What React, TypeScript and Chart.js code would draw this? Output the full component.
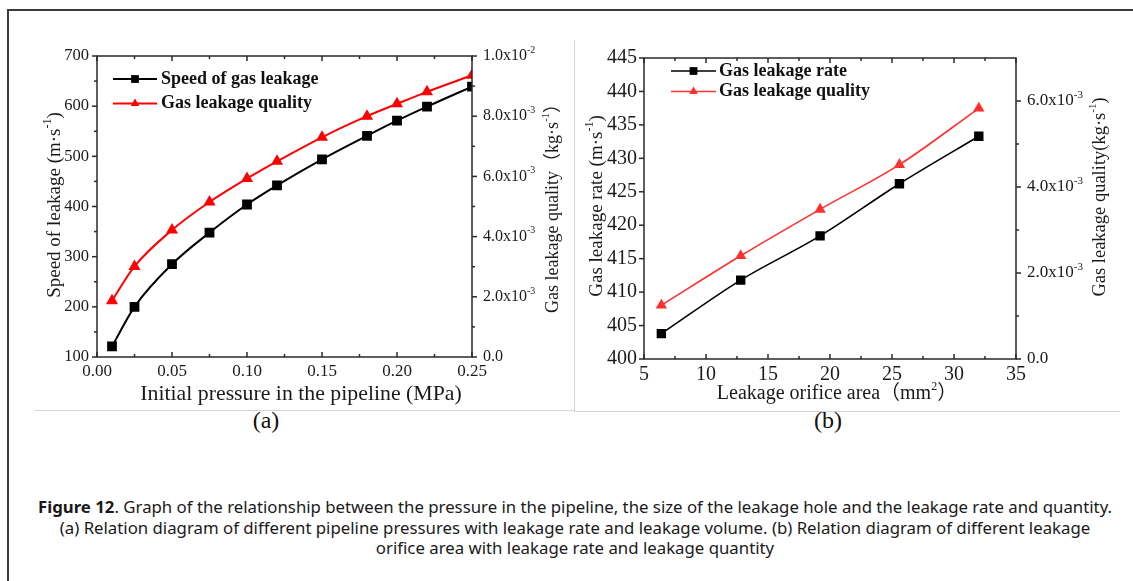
import React, { useEffect, useRef } from "react";
import { Chart, registerables } from "chart.js";
Chart.register(...registerables);

// ---------- Panel (a): pressure vs. speed / quality ----------
const pressureA = [0.01, 0.025, 0.05, 0.075, 0.1, 0.12, 0.15, 0.18, 0.2, 0.22, 0.25];
const speedA = [121, 200, 285, 348, 404, 442, 494, 541, 571, 599, 639];
const qualityA = [0.00187, 0.00301, 0.00422, 0.00515, 0.00593, 0.0065, 0.0073, 0.008, 0.00841, 0.00881, 0.00936];
const rightTicksA = [0, 0.002, 0.004, 0.006, 0.008, 0.01];
const legendA = ["Speed of gas leakage", "Gas leakage quality"];

// ---------- Panel (b): orifice area vs. rate / quality ----------
const areaB = [6.4, 12.8, 19.2, 25.6, 32];
const rateB = [403.8, 411.8, 418.4, 426.2, 433.3];
const qualityB = [0.00125, 0.0024, 0.00348, 0.00452, 0.00583];
const rightTicksB = [0, 0.002, 0.004, 0.006];
const legendB = ["Gas leakage rate", "Gas leakage quality"];

const SERIF = '"Liberation Serif", "Times New Roman", "Noto Sans CJK SC", serif';

type Part = { t: string; sup?: boolean };

function drawRich(ctx: CanvasRenderingContext2D, parts: Part[], x: number, y: number, size: number, weight: string, align: string) {
  const supSize = Math.round(size * 0.62);
  const widths: number[] = [];
  let total = 0;
  parts.forEach((p) => {
    ctx.font = `${weight} ${p.sup ? supSize : size}px ${SERIF}`;
    const w = ctx.measureText(p.t).width;
    widths.push(w);
    total += w;
  });
  let cx = align === "center" ? x - total / 2 : align === "right" ? x - total : x;
  ctx.textAlign = "left";
  ctx.textBaseline = "middle";
  parts.forEach((p, i) => {
    ctx.font = `${weight} ${p.sup ? supSize : size}px ${SERIF}`;
    ctx.fillText(p.t, cx, p.sup ? y - size * 0.36 : y);
    cx += widths[i];
  });
}

function sciParts(v: number): Part[] {
  if (v === 0) return [{ t: "0.0" }];
  const e = Math.floor(Math.log10(v) + 1e-9);
  const m = v / Math.pow(10, e);
  return [{ t: `${m.toFixed(1)}x10` }, { t: `${e}`, sup: true }];
}

type Title = { parts: Part[]; x: number; y: number; rot?: boolean; size: number };
type Decor = {
  xMinor: boolean;
  yMinor: boolean;
  bottomDir: number;
  rightTicks: number[];
  rightGap: number;
  rightSize: number;
  titles: Title[];
  legend: { x1: number; x2: number; tx: number; y0: number; dy: number; size: number; labels: string[] };
};

function decorPlugin(d: Decor) {
  return {
    id: "decor",
    afterDraw(chart: any) {
      const ctx: CanvasRenderingContext2D = chart.ctx;
      const a = chart.chartArea;
      const xs = chart.scales.x;
      const ys = chart.scales.y;
      const y1 = chart.scales.y1;
      ctx.save();
      ctx.strokeStyle = "#2a2a2a";
      ctx.fillStyle = "#1a1a1a";
      ctx.lineWidth = 1.5;
      ctx.strokeRect(a.left, a.top, a.right - a.left, a.bottom - a.top);
      const mids = (vals: number[]) => vals.slice(1).map((v, i) => (v + vals[i]) / 2);
      const xMaj: number[] = xs.ticks.map((t: any) => t.value);
      const yMaj: number[] = ys.ticks.map((t: any) => t.value);
      const seg = (x1: number, y1p: number, x2: number, y2: number) => {
        ctx.beginPath();
        ctx.moveTo(x1, y1p);
        ctx.lineTo(x2, y2);
        ctx.stroke();
      };
      const hTick = (vals: number[], y: number, dir: number, len: number) =>
        vals.forEach((v) => {
          const px = xs.getPixelForValue(v);
          seg(px, y, px, y + dir * len);
        });
      const vTick = (scale: any, vals: number[], x: number, dir: number, len: number) =>
        vals.forEach((v) => {
          const py = scale.getPixelForValue(v);
          seg(x, py, x + dir * len, py);
        });
      hTick(xMaj, a.bottom, d.bottomDir, 5);
      if (d.xMinor) hTick(mids(xMaj), a.bottom, d.bottomDir, 3);
      hTick(xMaj, a.top, 1, 5);
      if (d.xMinor) hTick(mids(xMaj), a.top, 1, 3);
      vTick(ys, yMaj, a.left, -1, 5);
      if (d.yMinor) vTick(ys, mids(yMaj), a.left, -1, 3);
      vTick(y1, d.rightTicks, a.right, 1, 5);
      vTick(y1, mids(d.rightTicks), a.right, 1, 3);
      d.rightTicks.forEach((v) => {
        drawRich(ctx, sciParts(v), a.right + d.rightGap, y1.getPixelForValue(v), d.rightSize, "normal", "left");
      });
      d.titles.forEach((t) => {
        ctx.save();
        ctx.translate(t.x, t.y);
        if (t.rot) ctx.rotate(-Math.PI / 2);
        drawRich(ctx, t.parts, 0, 0, t.size, "normal", "center");
        ctx.restore();
      });
      // legend
      const L = d.legend;
      chart.data.datasets.forEach((ds: any, i: number) => {
        const y = L.y0 + i * L.dy;
        ctx.strokeStyle = ds.borderColor;
        ctx.fillStyle = ds.pointBackgroundColor;
        ctx.lineWidth = ds.borderWidth;
        seg(L.x1, y, L.x2, y);
        const cx = (L.x1 + L.x2) / 2;
        const r = ds.pointRadius;
        ctx.beginPath();
        if (ds.pointStyle === "rect") {
          const s = Math.SQRT1_2 * r;
          ctx.rect(cx - s, y - s, 2 * s, 2 * s);
        } else {
          let rad = 0;
          ctx.moveTo(cx + Math.sin(rad) * r, y - Math.cos(rad) * r);
          rad += (2 * Math.PI) / 3;
          ctx.lineTo(cx + Math.sin(rad) * r, y - Math.cos(rad) * r);
          rad += (2 * Math.PI) / 3;
          ctx.lineTo(cx + Math.sin(rad) * r, y - Math.cos(rad) * r);
          ctx.closePath();
        }
        ctx.fill();
        ctx.fillStyle = "#111";
        drawRich(ctx, [{ t: L.labels[i] }], L.tx, y, L.size, "bold", "left");
      });
      ctx.restore();
    },
  };
}

type PanelProps = {
  width: number;
  height: number;
  left: number;
  top: number;
  build: () => any;
};

function Panel({ width, height, left, top, build }: PanelProps) {
  const ref = useRef<HTMLCanvasElement | null>(null);
  useEffect(() => {
    if (!ref.current) return;
    const chart = new Chart(ref.current, build());
    return () => chart.destroy();
  }, []);
  return (
    <canvas
      ref={ref}
      width={width}
      height={height}
      style={{ position: "absolute", left, top, width, height }}
    />
  );
}

function tickFont(size: number) {
  return { family: SERIF, size, weight: "normal" as const };
}

function buildA() {
  const deco: Decor = {
    xMinor: true,
    yMinor: true,
    bottomDir: -1,
    rightTicks: rightTicksA,
    rightGap: 11,
    rightSize: 16,
    titles: [
      { parts: [{ t: "Initial pressure in the pipeline (MPa)" }], x: 301, y: 394, size: 21.8 },
      { parts: [{ t: "Speed of leakage (m·s" }, { t: "-1", sup: true }, { t: ")" }], x: 55, y: 205, rot: true, size: 19 },
      { parts: [{ t: "Gas leakage quality（kg·s" }, { t: "-1", sup: true }, { t: "）" }], x: 553, y: 204, rot: true, size: 18 },
    ],
    legend: { x1: 113, x2: 157, tx: 161, y0: 79, dy: 24.5, size: 18, labels: legendA },
  };
  return {
    type: "line",
    data: {
      datasets: [
        {
          label: legendA[0],
          data: pressureA.map((x, i) => ({ x, y: speedA[i] })),
          yAxisID: "y",
          borderColor: "#000000",
          backgroundColor: "#000000",
          pointBackgroundColor: "#000000",
          pointBorderColor: "#000000",
          pointStyle: "rect",
          pointRadius: 5.5,
          borderWidth: 2,
          tension: 0.4,
          cubicInterpolationMode: "monotone",
        },
        {
          label: legendA[1],
          data: pressureA.map((x, i) => ({ x, y: qualityA[i] })),
          yAxisID: "y1",
          borderColor: "#ff0000",
          backgroundColor: "#ff0000",
          pointBackgroundColor: "#ff0000",
          pointBorderColor: "#ff0000",
          pointStyle: "triangle",
          pointRadius: 5,
          borderWidth: 2,
          tension: 0.4,
          cubicInterpolationMode: "monotone",
        },
      ],
    },
    options: {
      responsive: false,
      animation: false,
      devicePixelRatio: 1,
      layout: { padding: { top: 56, left: 0, right: 0, bottom: 0 } },
      plugins: { legend: { display: false }, tooltip: { enabled: false }, title: { display: false } },
      scales: {
        x: {
          type: "linear",
          min: 0,
          max: 0.25,
          grid: { display: false, drawTicks: false },
          border: { display: false },
          ticks: {
            stepSize: 0.05,
            callback: (v: any) => Number(v).toFixed(2),
            font: tickFont(17),
            color: "#1a1a1a",
            padding: 4,
            maxRotation: 0,
            autoSkip: false,
          },
          afterFit: (s: any) => {
            s.height = 48;
          },
        },
        y: {
          type: "linear",
          position: "left",
          min: 100,
          max: 700,
          grid: { display: false, drawTicks: false },
          border: { display: false },
          ticks: { stepSize: 100, font: tickFont(16.5), color: "#1a1a1a", padding: 8 },
          afterFit: (s: any) => {
            s.width = 97;
          },
        },
        y1: {
          type: "linear",
          position: "right",
          min: 0,
          max: 0.01,
          grid: { display: false, drawTicks: false },
          border: { display: false },
          ticks: { display: false, stepSize: 0.002 },
          afterFit: (s: any) => {
            s.width = 103;
          },
        },
      },
    },
    plugins: [decorPlugin(deco)],
  };
}

function buildB() {
  const deco: Decor = {
    xMinor: true,
    yMinor: false,
    bottomDir: -1,
    rightTicks: rightTicksB,
    rightGap: 11,
    rightSize: 17,
    titles: [
      { parts: [{ t: "Leakage orifice area（mm" }, { t: "2", sup: true }, { t: "）" }], x: 262, y: 394, size: 20 },
      { parts: [{ t: "Gas leakage rate (m·s" }, { t: "-1", sup: true }, { t: ")" }], x: 22, y: 206, rot: true, size: 19 },
      { parts: [{ t: "Gas leakage quality(kg·s" }, { t: "-1", sup: true }, { t: ")" }], x: 525, y: 197, rot: true, size: 18.5 },
    ],
    legend: { x1: 96, x2: 141, tx: 144, y0: 71, dy: 20.5, size: 18, labels: legendB },
  };
  return {
    type: "line",
    data: {
      datasets: [
        {
          label: legendB[0],
          data: areaB.map((x, i) => ({ x, y: rateB[i] })),
          yAxisID: "y",
          borderColor: "#000000",
          backgroundColor: "#000000",
          pointBackgroundColor: "#000000",
          pointBorderColor: "#000000",
          pointStyle: "rect",
          pointRadius: 5.5,
          borderWidth: 1.6,
          tension: 0.3,
          cubicInterpolationMode: "monotone",
        },
        {
          label: legendB[1],
          data: areaB.map((x, i) => ({ x, y: qualityB[i] })),
          yAxisID: "y1",
          borderColor: "#ff3030",
          backgroundColor: "#ff3030",
          pointBackgroundColor: "#ff3030",
          pointBorderColor: "#ff3030",
          pointStyle: "triangle",
          pointRadius: 5,
          borderWidth: 1.6,
          tension: 0.3,
          cubicInterpolationMode: "monotone",
        },
      ],
    },
    options: {
      responsive: false,
      animation: false,
      devicePixelRatio: 1,
      layout: { padding: { top: 58, left: 0, right: 0, bottom: 0 } },
      plugins: { legend: { display: false }, tooltip: { enabled: false }, title: { display: false } },
      scales: {
        x: {
          type: "linear",
          min: 5,
          max: 35,
          grid: { display: false, drawTicks: false },
          border: { display: false },
          ticks: { stepSize: 5, font: tickFont(20), color: "#1a1a1a", padding: 4, maxRotation: 0, autoSkip: false },
          afterFit: (s: any) => {
            s.height = 46;
          },
        },
        y: {
          type: "linear",
          position: "left",
          min: 400,
          max: 445,
          grid: { display: false, drawTicks: false },
          border: { display: false },
          ticks: { stepSize: 5, font: tickFont(20), color: "#1a1a1a", padding: 7 },
          afterFit: (s: any) => {
            s.width = 69;
          },
        },
        y1: {
          type: "linear",
          position: "right",
          min: 0,
          max: 0.007,
          grid: { display: false, drawTicks: false },
          border: { display: false },
          ticks: { display: false, stepSize: 0.002 },
          afterFit: (s: any) => {
            s.width = 117;
          },
        },
      },
    },
    plugins: [decorPlugin(deco)],
  };
}

export default function App() {
  const line = "#d4d4d4";
  const sub = {
    position: "absolute" as const,
    width: 100,
    top: 405,
    textAlign: "center" as const,
    fontFamily: SERIF,
    fontSize: 24,
    lineHeight: "30px",
    color: "#111",
  };
  return (
    <div
      style={{
        position: "fixed",
        left: 0,
        top: 0,
        width: 1133,
        height: 581,
        background: "#ffffff",
        overflow: "hidden",
      }}
    >
      <div
        style={{
          position: "absolute",
          left: 7,
          top: 9,
          width: 1300,
          height: 700,
          borderTop: "2px solid #3a3a3a",
          borderLeft: "2px solid #3a3a3a",
        }}
      />
      <div style={{ position: "absolute", left: 574, top: 40, width: 1, height: 372, background: line }} />
      <div style={{ position: "absolute", left: 35, top: 410, width: 539, height: 1, background: line }} />
      <div style={{ position: "absolute", left: 575, top: 411, width: 545, height: 1, background: line }} />
      <Panel width={575} height={405} left={0} top={0} build={buildA} />
      <Panel width={558} height={405} left={575} top={0} build={buildB} />
      <div style={{ ...sub, left: 216 }}>(a)</div>
      <div style={{ ...sub, left: 778 }}>(b)</div>
      <div
        style={{
          position: "absolute",
          left: -20,
          width: 1190,
          top: 497,
          textAlign: "center",
          fontFamily: '"Noto Sans", sans-serif',
          fontSize: 16.8,
          lineHeight: "20.5px",
          color: "#1a1a1a",
        }}
      >
        <b>Figure 12</b>. Graph of the relationship between the pressure in the pipeline, the size of the leakage hole and the leakage rate and quantity.
        <br />
        (a) Relation diagram of different pipeline pressures with leakage rate and leakage volume. (b) Relation diagram of different leakage
        <br />
        orifice area with leakage rate and leakage quantity
      </div>
    </div>
  );
}
